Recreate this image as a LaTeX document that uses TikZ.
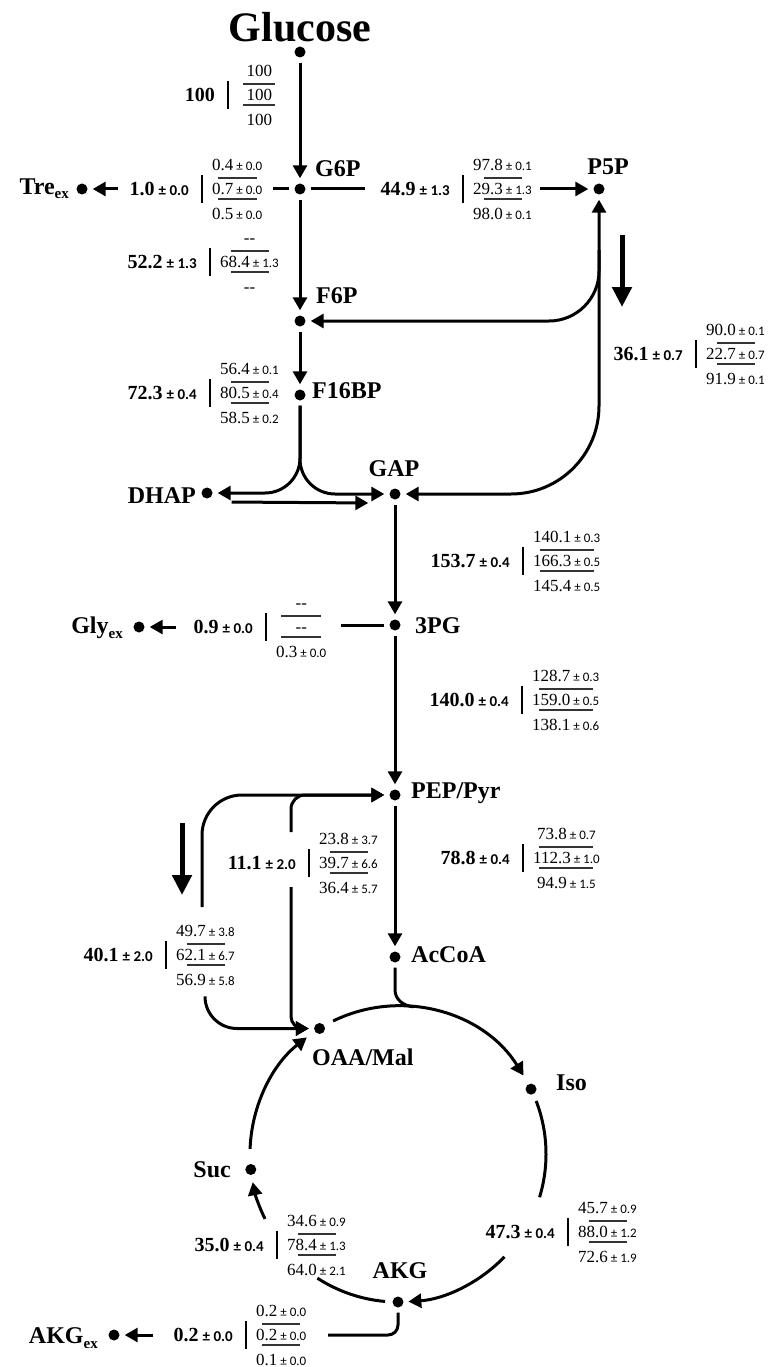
\documentclass[tikz,border=0pt]{standalone}
\usepackage{fontspec}
\setmainfont{Liberation Serif}
\newfontfamily\errfont{Carlito}
\usepackage{tikz}
\usetikzlibrary{arrows.meta,positioning,calc}

\newcommand{\err}[1]{\hspace{3pt}{\errfont\fontsize{13}{13}\selectfont ± #1}}
\newcommand{\berr}[1]{\hspace{4pt}{\errfont\bfseries\fontsize{15}{15}\selectfont ± #1}}
\newcommand{\exsub}{\raisebox{-5pt}{\fontsize{15}{15}\selectfont ex}}
\newcommand{\fluxtag}[7][38]{%
  \node[netflux,anchor=east] (#2net) at ($(#3)+(-13,0)$) {#4};
  \draw[fluxbar] ($(#3)+(0,-14)$) -- ($(#3)+(0,14)$);
  \node[fluxstack,anchor=west] (#2stk) at ($(#3)+(10,0)$) {\vphantom{0}#5\\#6\\#7};
  \draw[fluxrule] ($(#2stk.center)+(-#1/2,-11)$) -- ++(#1,0);
  \draw[fluxrule] ($(#2stk.center)+(-#1/2,10)$) -- ++(#1,0);
}

\begin{document}
\begin{tikzpicture}[x=1pt,y=-1pt,
    >={Triangle[length=13pt,width=14pt]},
    metab/.style={circle,fill=black,inner sep=0pt,minimum size=11pt},
    metname/.style={font=\fontsize{24}{24}\selectfont\bfseries,inner sep=0pt},
    netflux/.style={font=\fontsize{20}{20}\selectfont\bfseries,inner sep=0pt},
    fluxstack/.style={align=center,inner sep=0pt,font=\fontsize{17}{24.5}\selectfont},
    fluxbar/.style={line width=2.2pt},
    fluxrule/.style={line width=1.2pt,draw=black!80},
    link/.style={line width=3pt,shorten <=5pt,shorten >=5pt},
    flow/.style={link,->},
    flowboth/.style={link,<->},
    arcline/.style={line width=3pt},
    arcflow/.style={line width=3pt,->},
    hint/.style={line width=5pt,-{Triangle[length=20pt,width=19pt]}}
  ]
    \useasboundingbox (0,0) rectangle (774,1367);

    \node[metab] (glc) at (300,52) {};
    \node[metname,font=\fontsize{42}{42}\selectfont\bfseries,anchor=base] (glcname) at (300,42) {Glucose};
    \node[metab] (g6p) at (300,189) {};
    \node[metname,anchor=base west] (g6pname) at (315,177) {G6P};
    \node[metab] (tre) at (82,189) {};
    \node[metname,anchor=base east] (trename) at (69,194) {Tre\exsub};
    \node[metab] (p5p) at (599,189) {};
    \node[metname,anchor=base] (p5pname) at (608,175) {P5P};
    \node[metab] (f6p) at (300,321) {};
    \node[metname,anchor=base west] (f6pname) at (316,303) {F6P};
    \node[metab] (f16bp) at (300,395) {};
    \node[metname,anchor=base west] (f16bpname) at (312,398) {F16BP};
    \node[metab] (dhap) at (207,493) {};
    \node[metname,anchor=base east] (dhapname) at (196,503) {DHAP};
    \node[metab] (gap) at (395,494) {};
    \node[metname,anchor=base] (gapname) at (394,476) {GAP};
    \node[metab] (pg3) at (395,625) {};
    \node[metname,anchor=base west] (pg3name) at (415,633) {3PG};
    \node[metab] (gly) at (139,627) {};
    \node[metname,anchor=base east] (glyname) at (123,633) {Gly\exsub};
    \node[metab] (pep) at (395,795) {};
    \node[metname,anchor=base west] (pepname) at (411,798) {PEP/Pyr};
    \node[metab] (accoa) at (395,957) {};
    \node[metname,anchor=base west] (accoaname) at (411,962) {AcCoA};

    \coordinate (tca) at (398,1154);
    \node[metab] (oaa) at ($(tca)+(122:148pt)$) {};
    \node[metname,anchor=base west] (oaaname) at (312,1065) {OAA/Mal};
    \node[metab] (iso) at ($(tca)+(26:148pt)$) {};
    \node[metname,anchor=base west] (isoname) at (556,1090) {Iso};
    \node[metab] (suc) at ($(tca)+(186:148pt)$) {};
    \node[metname,anchor=base east] (sucname) at (231,1177) {Suc};
    \node[metab] (akg) at ($(tca)+(270:148pt)$) {};
    \node[metname,anchor=base] (akgname) at (400,1278) {AKG};
    \node[metab] (akgex) at (114,1335) {};
    \node[metname,anchor=base east] (akgexname) at (98,1343) {AKG\exsub};

    \coordinate (g6ptre) at (268,189);
    \coordinate (treout) at (123,189);
    \coordinate (g6pppp) at (370,189);
    \coordinate (pppin) at (535,189);
    \coordinate (pppsplit) at (599,245);
    \coordinate (pg3gly) at (336,625);
    \coordinate (glyout) at (181,627);
    \coordinate (oaaup) at (202,912);
    \coordinate (oaaout) at (205,995);
    \coordinate (pckup) at (291,837);
    \coordinate (pckdown) at (291,882);
    \coordinate (accoabend) at (395,990);
    \coordinate (akgturn) at (323,1335);
    \coordinate (akgexout) at (158,1335);

    \draw[flow] (glc) -- (g6p);
    \draw[link] (g6p) -- (g6ptre);
    \draw[flow] (treout) -- (tre);
    \draw[link] (g6p) -- (g6pppp);
    \draw[flow] (pppin) -- (p5p);
    \draw[flow] (g6p) -- (f6p);
    \draw[flow,rounded corners=50pt] (pppsplit) |- (f6p);
    \draw[flowboth,rounded corners=88pt] (p5p) |- (gap);
    \draw[hint] (622,235) -- (622,307);
    \draw[flow] (f6p) -- (f16bp);
    \draw[flow,rounded corners=35pt] (f16bp) |- (dhap);
    \draw[flow,rounded corners=35pt] (f16bp) |- (gap);
    \draw[flow] ([xshift=14pt,yshift=-9pt]dhap.east) -- ([xshift=-16pt,yshift=-9pt]gap.west);
    \draw[flow] (gap) -- (pg3);
    \draw[link] (pg3) -- (pg3gly);
    \draw[flow] (glyout) -- (gly);
    \draw[flow] (pg3) -- (pep);
    \draw[flow] (pep) -- (accoa);
    \draw[flow,rounded corners=40pt] (oaaup) |- (pep);
    \draw[flow,rounded corners=14pt] (pckup) |- (pep);
    \draw[flow,rounded corners=12pt] (pckdown) |- (oaa);
    \draw[flow,rounded corners=32pt] (oaaout) |- (oaa);
    \draw[hint] (182,823) -- (182,895);
    \draw[arcline,shorten <=5pt] (accoa) -- (accoabend) to[out=-90,in=175] ($(tca)+(84:148pt)$);

    \draw[arcflow] ($(tca)+(116:148pt)$) arc[start angle=116,end angle=32,radius=148pt];
    \draw[arcline] ($(tca)+(21:148pt)$) arc[start angle=21,end angle=-17,radius=148pt];
    \draw[arcflow] ($(tca)+(-44:148pt)$) arc[start angle=-44,end angle=-86,radius=148pt];
    \draw[arcline] ($(tca)+(265:148pt)$) arc[start angle=265,end angle=237,radius=148pt];
    \draw[arcflow] ($(tca)+(206:148pt)$) arc[start angle=206,end angle=191,radius=148pt];
    \draw[arcflow] ($(tca)+(178:148pt)$) arc[start angle=178,end angle=128,radius=148pt];
    \draw[link,rounded corners=10pt] (akg) |- (akgturn);
    \draw[flow] (akgexout) -- (akgex);

    \fluxtag[32]{glcflux}{228,95}{100}{\hphantom{0}100\hphantom{0}}{\hphantom{0}100\hphantom{0}}{\hphantom{0}100\hphantom{0}}
    \fluxtag[39]{treflux}{202,189}{1.0\berr{0.0}}{0.4\err{0.0}}{0.7\err{0.0}}{0.5\err{0.0}}
    \fluxtag{pppflux}{463,189}{44.9\berr{1.3}}{97.8\err{0.1}}{29.3\err{1.3}}{98.0\err{0.1}}
    \fluxtag{pgiflux}{210,262}{52.2\berr{1.3}}{-{}-}{68.4\err{1.3}}{-{}-}
    \fluxtag{pfkflux}{210,393}{72.3\berr{0.4}}{56.4\err{0.1}}{80.5\err{0.4}}{58.5\err{0.2}}
    \fluxtag{pppback}{696,354}{36.1\berr{0.7}}{90.0\err{0.1}}{22.7\err{0.7}}{91.9\err{0.1}}
    \fluxtag[54]{gapflux}{523,561}{153.7\berr{0.4}}{140.1\err{0.3}}{166.3\err{0.5}}{145.4\err{0.5}}
    \fluxtag[54]{pgflux}{522,700}{140.0\berr{0.4}}{128.7\err{0.3}}{159.0\err{0.5}}{138.1\err{0.6}}
    \fluxtag[40]{glyflux}{266,627}{0.9\berr{0.0}}{-{}-}{-{}-}{0.3\err{0.0}}
    \fluxtag[54]{pdhflux}{523,858}{78.8\berr{0.4}}{73.8\err{0.7}}{112.3\err{1.0}}{94.9\err{1.5}}
    \fluxtag{pckflux}{309,863}{11.1\berr{2.0}}{23.8\err{3.7}}{39.7\err{6.6}}{36.4\err{5.7}}
    \fluxtag{pycflux}{166,955}{40.1\berr{2.0}}{49.7\err{3.8}}{62.1\err{6.7}}{56.9\err{5.8}}
    \fluxtag{icdflux}{568,1232}{47.3\berr{0.4}}{45.7\err{0.9}}{88.0\err{1.2}}{72.6\err{1.9}}
    \fluxtag{sucflux}{277,1245}{35.0\berr{0.4}}{34.6\err{0.9}}{78.4\err{1.3}}{64.0\err{2.1}}
    \fluxtag{akgflux}{246,1335}{0.2\berr{0.0}}{0.2\err{0.0}}{0.2\err{0.0}}{0.1\err{0.0}}
  \end{tikzpicture}
\end{document}
